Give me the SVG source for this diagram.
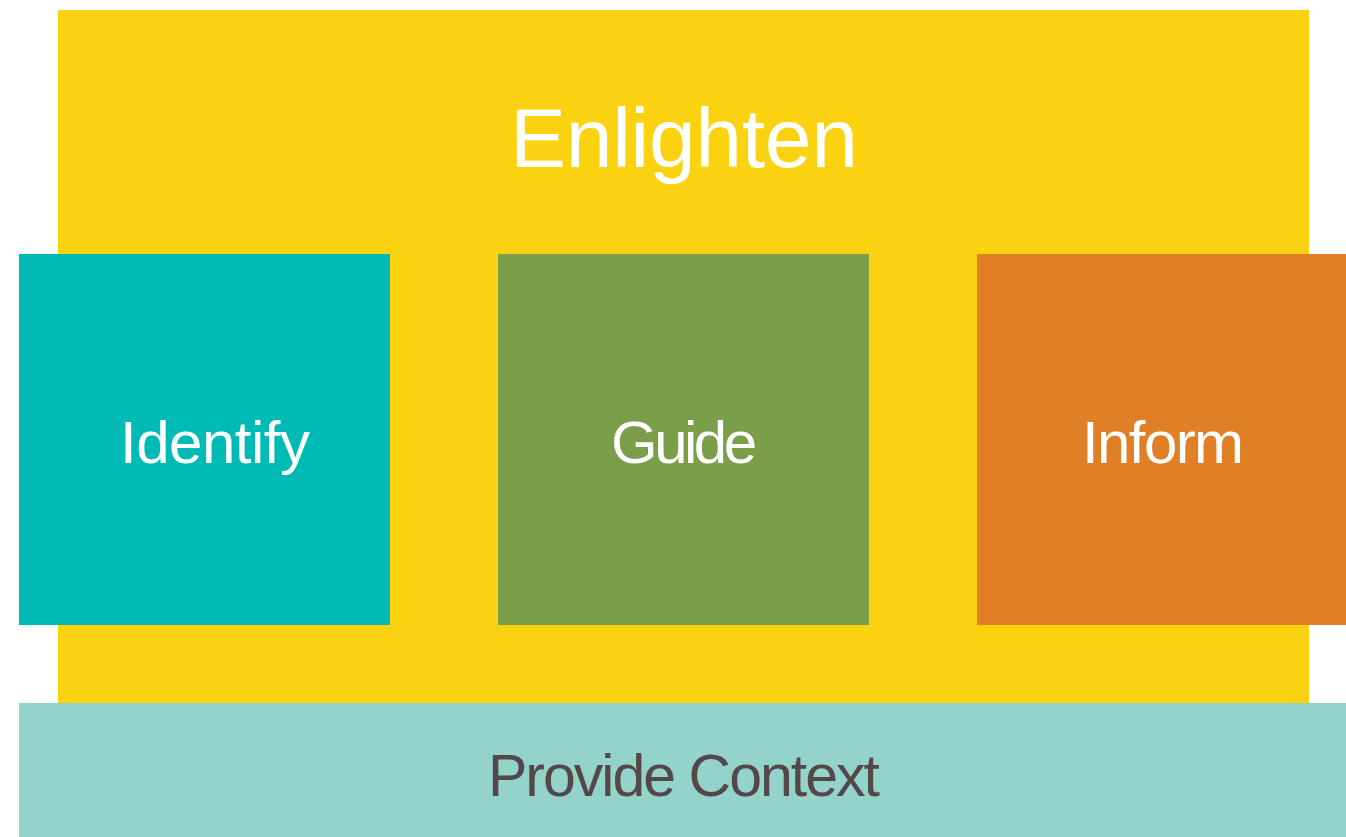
<svg xmlns="http://www.w3.org/2000/svg" width="1346" height="837" viewBox="0 0 1346 837">
<style>
text{font-family:"Liberation Sans","DejaVu Sans",sans-serif;text-anchor:middle}
.w{fill:#ffffff}
.d{fill:#54474a}
</style>
<rect width="1346" height="837" fill="#ffffff"/>
<g id="enlighten">
<rect x="58" y="10" width="1251" height="693" fill="#fbd20f"/>
<text class="w" x="684" y="167" font-size="84" textLength="348" lengthAdjust="spacing">Enlighten</text>
</g>
<g id="identify">
<rect x="19" y="254" width="371" height="371" fill="#00bab5"/>
<text class="w" x="215" y="463" font-size="60" textLength="190" lengthAdjust="spacing">Identify</text>
</g>
<g id="guide">
<rect x="498" y="254" width="371" height="371" fill="#7b9e4a"/>
<text class="w" x="684" y="463" font-size="60" textLength="146" lengthAdjust="spacing">Guide</text>
</g>
<g id="inform">
<rect x="977" y="254" width="369" height="371" fill="#e07f25"/>
<text class="w" x="1163" y="463" font-size="60" textLength="162" lengthAdjust="spacing">Inform</text>
</g>
<g id="provide-context">
<rect x="19" y="703" width="1327" height="134" fill="#94d3ca"/>
<text class="d" x="684" y="796" font-size="59" textLength="392" lengthAdjust="spacing">Provide Context</text>
</g>
<g id="connectors"></g>
</svg>
